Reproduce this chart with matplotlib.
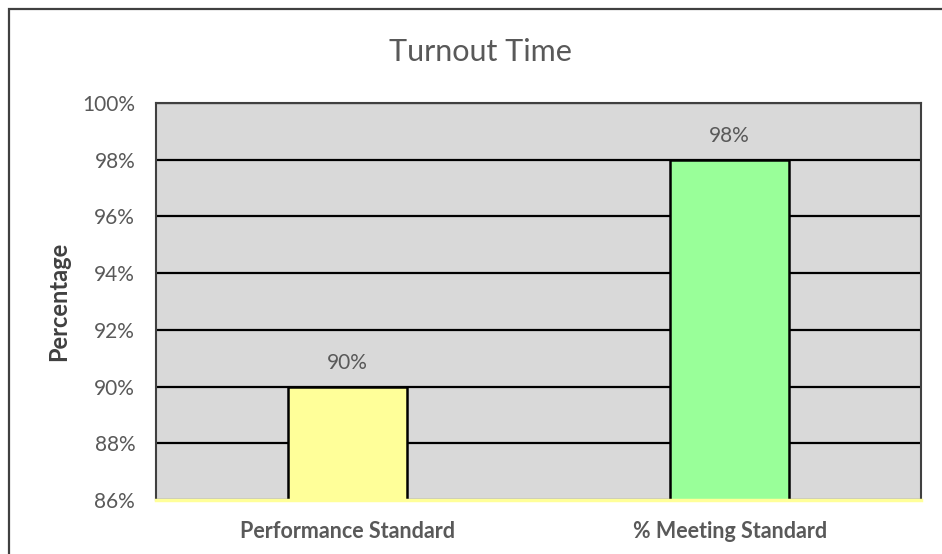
import matplotlib.pyplot as plt
from matplotlib.patches import Rectangle
from matplotlib.ticker import PercentFormatter

# chart data
categories = ["Performance Standard", "% Meeting Standard"]
values = [90, 98]
bar_colors = ["#ffff99", "#99ff99"]
y_ticks = [86, 88, 90, 92, 94, 96, 98, 100]

plt.rcParams['font.family'] = ['Lato', 'DejaVu Sans']
text_gray = "#595959"

W, H = 942, 554
fig = plt.figure(figsize=(W / 100, H / 100), dpi=100)

# outer chart frame (only top and left edges fall inside the image)
fig.patches.append(Rectangle((9 / W, -0.2), 1.2, 1.2 - 9 / H, transform=fig.transFigure,
                             fill=False, edgecolor="#404040", linewidth=1.6,
                             clip_on=False))

ax = fig.add_axes([156 / W, (H - 500) / H, (921 - 156) / W, (500 - 103) / H])
ax.set_facecolor("#d9d9d9")

x = list(range(len(categories)))
ax.set_ylim(y_ticks[0], y_ticks[-1])
ax.set_xlim(-0.5, len(categories) - 0.5)
ax.set_yticks(y_ticks)
ax.yaxis.set_major_formatter(PercentFormatter(decimals=0))
ax.grid(axis='y', color='black', linewidth=1.6, zorder=1)
ax.set_axisbelow(True)

bars = ax.bar(x, values, width=0.31, color=bar_colors, edgecolor='black',
              linewidth=1.8, zorder=2)
for b, v in zip(bars, values):
    ax.annotate(f"{v}%", (b.get_x() + b.get_width() / 2, v), xytext=(0, 10),
                textcoords='offset points', ha='center', va='bottom',
                fontsize=15, color=text_gray)

ax.set_xticks(x)
ax.set_xticklabels(categories, fontsize=15.5, fontweight='bold', color=text_gray)
ax.tick_params(axis='x', length=0, pad=15)
ax.tick_params(axis='y', length=0, pad=15, labelsize=15, labelcolor=text_gray)

for side in ('left', 'right', 'top'):
    ax.spines[side].set_color("#404040")
    ax.spines[side].set_linewidth(1.5)
ax.spines['bottom'].set_color("#ffff99")
ax.spines['bottom'].set_linewidth(2.5)

ax.set_ylabel("Percentage", fontsize=17, fontweight='bold', color="#404040", labelpad=9)
fig.text(480 / W, 1 - 52 / H, "Turnout Time", ha='center', va='center',
         fontsize=22, color=text_gray)

fig.savefig("out.png", dpi=100)
